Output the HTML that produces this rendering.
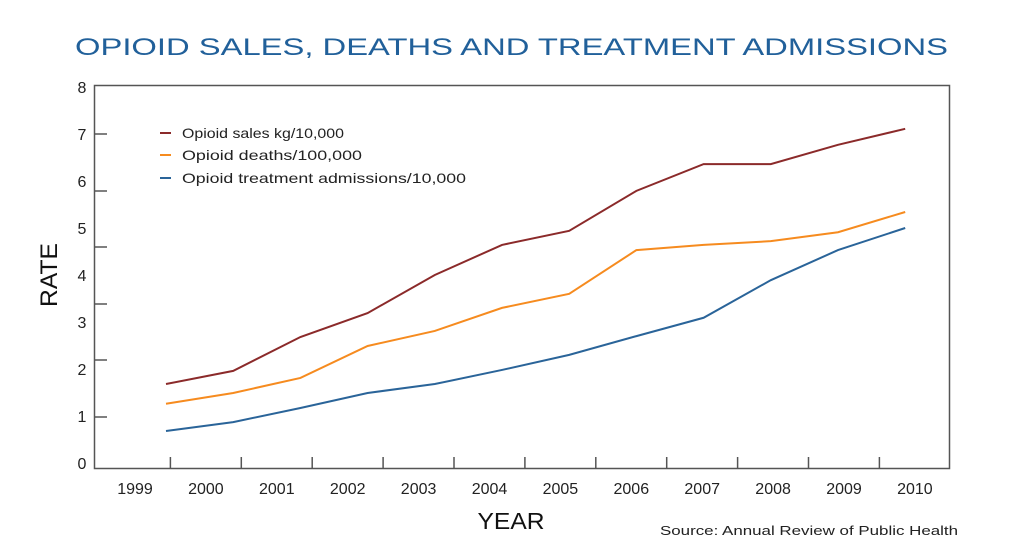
<!DOCTYPE html>
<html><head><meta charset="utf-8"><style>
body{margin:0;background:#fff}
svg text{font-family:"Liberation Sans",sans-serif}
</style></head><body>
<svg id="chart" width="1025" height="550" viewBox="0 0 1025 550" xmlns="http://www.w3.org/2000/svg">
<text x="75" y="55" font-size="24" fill="#21609a" textLength="873" lengthAdjust="spacingAndGlyphs">OPIOID SALES, DEATHS AND TREATMENT ADMISSIONS</text>
<rect x="94.5" y="85.5" width="855" height="383" fill="none" stroke="#555" stroke-width="1.5"/>
<g id="yaxis"></g>
<g id="xaxis"></g>
<g id="series"></g>
<text transform="translate(57,275) rotate(-90)" text-anchor="middle" font-size="24" fill="#111" textLength="64" lengthAdjust="spacingAndGlyphs">RATE</text>
<text x="511" y="529" text-anchor="middle" font-size="23" fill="#111" textLength="67" lengthAdjust="spacingAndGlyphs">YEAR</text>
<text x="660" y="535" font-size="13" fill="#222" textLength="298" lengthAdjust="spacingAndGlyphs">Source: Annual Review of Public Health</text>
<g>
<line x1="160" x2="171" y1="133" y2="133" stroke="#8b2a2a" stroke-width="2"/>
<text x="182" y="138" font-size="14" fill="#222" textLength="162" lengthAdjust="spacingAndGlyphs">Opioid sales kg/10,000</text>
<line x1="160" x2="171" y1="155" y2="155" stroke="#f68b1f" stroke-width="2"/>
<text x="182" y="160" font-size="14" fill="#222" textLength="180" lengthAdjust="spacingAndGlyphs">Opioid deaths/100,000</text>
<line x1="160" x2="171" y1="178" y2="178" stroke="#2a6499" stroke-width="2"/>
<text x="182" y="183" font-size="14" fill="#222" textLength="284" lengthAdjust="spacingAndGlyphs">Opioid treatment admissions/10,000</text>
</g>
</svg>
<script>
const years = ['1999','2000','2001','2002','2003','2004','2005','2006','2007','2008','2009','2010'];
const yTickLabels = [0,1,2,3,4,5,6,7,8];
const sales = [1.68,1.96,2.68,3.19,4.0,4.64,4.94,5.79,6.36,6.36,6.77,7.11];
const deaths = [1.26,1.49,1.81,2.49,2.81,3.3,3.6,4.53,4.64,4.72,4.91,5.34];
const treatment = [0.68,0.87,1.17,1.49,1.68,1.98,2.3,2.7,3.09,3.89,4.53,5.0];
const NS='http://www.w3.org/2000/svg';
const yS = v => 463 - 47 * v;
const xS = i => 166 + 67.2 * i;
const xLab = i => 135 + 70.9 * i;
function mk(tag, attrs, parent){const e=document.createElementNS(NS,tag);for(const k in attrs)e.setAttribute(k,attrs[k]);parent.appendChild(e);return e;}
const ya=document.getElementById('yaxis'), xa=document.getElementById('xaxis'), sg=document.getElementById('series');
yTickLabels.forEach(v=>{
  const t=mk('text',{x:82,y:yS(v)+6,'text-anchor':'middle','font-size':16,fill:'#222'},ya);
  
  
  t.textContent=v;
});
[134,191,247,304,360,417].forEach(y=>{
  const l=mk('line',{x1:95,x2:107,y1:y,y2:y,stroke:'#555','stroke-width':1.5},ya);
  
  
});
years.forEach((yr,i)=>{
  const t=mk('text',{x:xLab(i),y:494,'text-anchor':'middle','font-size':16,fill:'#222'},xa);
  
  
  t.textContent=yr;
  if(i>0){
    const x=xLab(i)-35.5;
    const l=mk('line',{x1:x,x2:x,y1:457,y2:469,stroke:'#555','stroke-width':1.5},xa);
    
    
  }
});
[[sales,'#8b2a2a','line-sales'],[deaths,'#f68b1f','line-deaths'],[treatment,'#2a6499','line-treatment']].forEach(([d,c,n])=>{
  const p=mk('polyline',{points:d.map((v,i)=>xS(i)+','+yS(v)).join(' '),fill:'none',stroke:c,'stroke-width':2},sg);
  
  
});
</script>
</body></html>
